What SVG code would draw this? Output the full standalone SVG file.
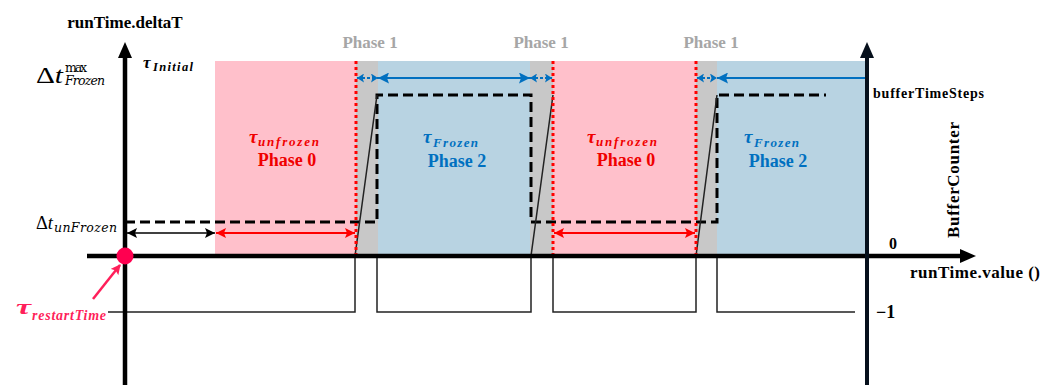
<svg xmlns="http://www.w3.org/2000/svg" width="1054" height="385" viewBox="0 0 1054 385">
<defs>
<style>
.lbl{font-family:"Liberation Serif",serif;font-weight:bold}
.ph1{font-family:"Liberation Serif",serif;font-weight:bold;font-size:17px;fill:#a6a6a6}
.ph{font-family:"Liberation Serif",serif;font-weight:bold;font-size:18px}
.tau{font-family:"Liberation Serif",serif;font-weight:bold;font-style:italic}
.math{font-family:"Liberation Serif",serif}
.sub{font-family:"DejaVu Serif",serif}
.red{fill:#f00000}
.blue{fill:#0070c0}
</style>
<marker id="axh" markerUnits="userSpaceOnUse" markerWidth="16" markerHeight="14" refX="0" refY="7" orient="auto"><path d="M0,0 L16,7 L0,14 Z" fill="#000"/></marker>
<marker id="axhn" markerUnits="userSpaceOnUse" markerWidth="16" markerHeight="14" refX="0" refY="7" orient="auto"><path d="M0,0 L16,7 L0,14 Z" fill="#06101c"/></marker>
<marker id="ahK" markerUnits="userSpaceOnUse" markerWidth="10" markerHeight="10" refX="10" refY="5" orient="auto-start-reverse"><path d="M0,0 L10,5 L0,10 L2,5 Z" fill="#000"/></marker>
<marker id="ahR" markerUnits="userSpaceOnUse" markerWidth="10" markerHeight="10" refX="10" refY="5" orient="auto-start-reverse"><path d="M0,0 L10,5 L0,10 L2,5 Z" fill="#f00"/></marker>
<marker id="ahB" markerUnits="userSpaceOnUse" markerWidth="11" markerHeight="11" refX="11" refY="5.5" orient="auto-start-reverse"><path d="M0,0 L11,5.5 L0,11 L2,5.5 Z" fill="#0070c0"/></marker>
<marker id="ahBs" markerUnits="userSpaceOnUse" markerWidth="7" markerHeight="9" refX="7" refY="4.5" orient="auto-start-reverse"><path d="M0,0 L7,4.5 L0,9 L1.5,4.5 Z" fill="#0070c0"/></marker>
<marker id="ahP" markerUnits="userSpaceOnUse" markerWidth="10" markerHeight="10" refX="9" refY="5" orient="auto"><path d="M0,0 L10,5 L0,10 L2,5 Z" fill="#ff1f5a"/></marker>
</defs>

<g id="regions">
<rect x="215" y="61" width="141" height="195" fill="#ffc0cb"/>
<rect x="356" y="61" width="22" height="195" fill="#c8c8c8"/>
<rect x="378" y="61" width="152" height="195" fill="#b8d3e2"/>
<rect x="530" y="61" width="23" height="195" fill="#c8c8c8"/>
<rect x="553" y="61" width="143" height="195" fill="#ffc0cb"/>
<rect x="696" y="61" width="21" height="195" fill="#c8c8c8"/>
<rect x="717" y="61" width="150" height="195" fill="#b8d3e2"/>
</g>

<g id="connectors">
<path d="M125,222 H377 V95 H531 V222 H717 V95 H826" fill="none" stroke="#000" stroke-width="3" stroke-dasharray="10,5"/>
<path d="M108,312 H355 V256 L377,95 M377,256 V312 H531 V256 L553,95 M553,256 V312 H696 V256 L717,95 M717,256 V312 H855" fill="none" stroke="#222" stroke-width="1.5"/>
<path d="M356,61 V256 M553,61 V256 M696,61 V256" fill="none" stroke="#f00" stroke-width="3" stroke-dasharray="3,3"/>
<path d="M87,256 H960" fill="none" stroke="#000" stroke-width="4.5" marker-end="url(#axh)"/>
<path d="M125,385 V58" fill="none" stroke="#000" stroke-width="4.5" marker-end="url(#axh)"/>
<path d="M867,385 V58" fill="none" stroke="#06101c" stroke-width="4" marker-end="url(#axhn)"/>
<path d="M127,233 H215" fill="none" stroke="#000" stroke-width="1.5" marker-start="url(#ahK)" marker-end="url(#ahK)"/>
<path d="M216,233 H355" fill="none" stroke="#f00" stroke-width="1.8" marker-start="url(#ahR)" marker-end="url(#ahR)"/>
<path d="M554,233 H695" fill="none" stroke="#f00" stroke-width="1.8" marker-start="url(#ahR)" marker-end="url(#ahR)"/>
<path d="M357,78 H378" fill="none" stroke="#0070c0" stroke-width="2" stroke-dasharray="3,2" marker-start="url(#ahBs)" marker-end="url(#ahBs)"/>
<path d="M378,78 H530" fill="none" stroke="#0070c0" stroke-width="2" marker-start="url(#ahB)" marker-end="url(#ahB)"/>
<path d="M530,78 H552" fill="none" stroke="#0070c0" stroke-width="2" stroke-dasharray="3,2" marker-start="url(#ahBs)" marker-end="url(#ahBs)"/>
<path d="M697,78 H717" fill="none" stroke="#0070c0" stroke-width="2" stroke-dasharray="3,2" marker-start="url(#ahBs)" marker-end="url(#ahBs)"/>
<path d="M717,78 H865" fill="none" stroke="#0070c0" stroke-width="2" marker-start="url(#ahB)"/>
<path d="M93,299 L120,265" fill="none" stroke="#ff1f5a" stroke-width="2.5" marker-end="url(#ahP)"/>
</g>

<g id="restart-point">
<circle cx="125" cy="256" r="8.5" fill="#ff0050"/>
</g>

<g id="axis-labels">
<text class="lbl" x="125" y="28" font-size="17" text-anchor="middle">runTime.deltaT</text>
<text class="lbl" x="910" y="278" font-size="17" textLength="130">runTime.value ()</text>
<text class="lbl" x="889" y="249" font-size="16">0</text>
<text class="lbl" x="876" y="318" font-size="18">−1</text>
<text class="lbl" x="873" y="98" font-size="14" textLength="111">bufferTimeSteps</text>
<text class="lbl" font-size="17" transform="translate(959,238) rotate(-90)" textLength="116">BufferCounter</text>
</g>

<g id="y-ticks">
<text class="math" x="36" y="83" font-size="24" textLength="27" lengthAdjust="spacingAndGlyphs">Δ<tspan font-style="italic">t</tspan></text>
<text class="sub" x="65" y="72" font-size="12.5" textLength="22">max</text>
<text class="sub" x="65" y="85" font-size="12.5" font-style="italic" textLength="40">Frozen</text>
<text class="math" x="36" y="229" font-size="19" textLength="17" lengthAdjust="spacingAndGlyphs">Δ<tspan font-style="italic">t</tspan></text>
<text class="sub" x="54" y="232" font-size="12.5" font-style="italic" textLength="63">unFrozen</text>
<text class="tau" x="143" y="68" font-size="17">τ</text>
<text class="tau" x="153" y="71" font-size="12.5" textLength="40">Initial</text>
<text class="tau" x="16" y="314" font-size="22" fill="#ff1f5a" textLength="15" lengthAdjust="spacingAndGlyphs">τ</text>
<text class="tau" x="32" y="320" font-size="14" fill="#ff1f5a" textLength="74">restartTime</text>
</g>

<g id="phase1-labels">
<text class="ph1" x="370" y="48" text-anchor="middle">Phase 1</text>
<text class="ph1" x="541" y="48" text-anchor="middle">Phase 1</text>
<text class="ph1" x="711" y="48" text-anchor="middle">Phase 1</text>
</g>

<g id="phase0-a">
<text class="tau red" x="249" y="143" font-size="19">τ</text>
<text class="tau red" x="258" y="146" font-size="13" textLength="61">unfrozen</text>
<text class="ph red" x="287" y="166" text-anchor="middle">Phase 0</text>
</g>
<g id="phase2-a">
<text class="tau blue" x="423" y="143" font-size="19">τ</text>
<text class="tau blue" x="433" y="147" font-size="13" textLength="45">Frozen</text>
<text class="ph blue" x="457" y="167" text-anchor="middle">Phase 2</text>
</g>
<g id="phase0-b">
<text class="tau red" x="587" y="143" font-size="19">τ</text>
<text class="tau red" x="596" y="146" font-size="13" textLength="61">unfrozen</text>
<text class="ph red" x="626" y="166" text-anchor="middle">Phase 0</text>
</g>
<g id="phase2-b">
<text class="tau blue" x="744" y="143" font-size="19">τ</text>
<text class="tau blue" x="754" y="147" font-size="13" textLength="45">Frozen</text>
<text class="ph blue" x="778" y="167" text-anchor="middle">Phase 2</text>
</g>
</svg>
